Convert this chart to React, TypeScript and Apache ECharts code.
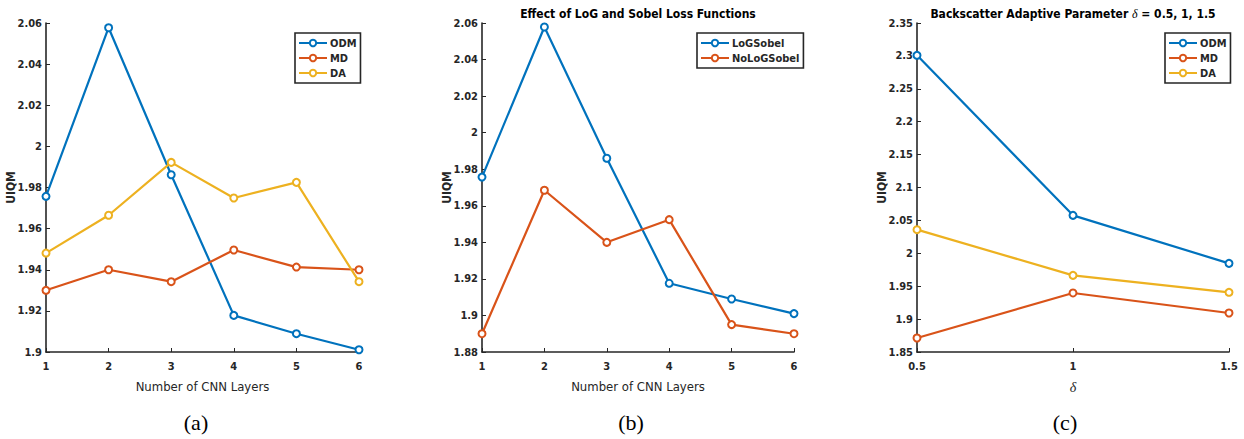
import React, { useEffect, useRef } from "react";
import * as echarts from "echarts";

const layers = [1, 2, 3, 4, 5, 6];
const aODM = [1.9757, 2.0577, 1.9862, 1.9178, 1.9089, 1.9011];
const aMD = [1.93, 1.94, 1.9342, 1.9496, 1.9413, 1.94];
const aDA = [1.9481, 1.9665, 1.9922, 1.9749, 1.9825, 1.9342];
const bLoGSobel = [1.9757, 2.0578, 1.986, 1.9176, 1.909, 1.901];
const bNoLoGSobel = [1.89, 1.9685, 1.94, 1.9524, 1.895, 1.89];
const deltas = [0.5, 1, 1.5];
const cODM = [2.3009, 2.0577, 1.9847];
const cMD = [1.8713, 1.9397, 1.9093];
const cDA = [2.0359, 1.9665, 1.9407];

const BLUE = "#0072BD";
const ORANGE = "#D95319";
const YELLOW = "#EDB120";
const AXIS = "#262626";
const FONT = "'Liberation Sans Narrow', 'DejaVu Sans Condensed', 'Liberation Sans', sans-serif";

const pairs = (xs: number[], ys: number[]) => xs.map((x, i) => [x, ys[i]]);
const fmt = (v: number) => String(parseFloat(v.toFixed(3)));

export default function App() {
  const ref = useRef<HTMLDivElement>(null);
  useEffect(() => {
    if (!ref.current) return;
    const chart = echarts.init(ref.current, undefined, { renderer: "svg" });
    const grids = [
      { left: 46, top: 23, width: 313, height: 329 },
      { left: 482, top: 23, width: 312, height: 329 },
      { left: 917, top: 23, width: 312, height: 329 },
    ];
    const axisCommon = {
      axisLine: { show: true, onZero: false, lineStyle: { color: AXIS, width: 1.6 } },
      axisTick: { show: true, inside: true, length: 4, lineStyle: { color: AXIS, width: 1 } },
      splitLine: { show: false },
      axisLabel: { color: AXIS, fontFamily: FONT, fontWeight: "bold", fontSize: 11, formatter: fmt },
    };
    const xName = { nameLocation: "middle", nameGap: 28, nameMoveOverlap: false, nameTextStyle: { color: AXIS, fontFamily: FONT, fontSize: 13 } };
    const xAxes = [
      { ...axisCommon, ...xName, gridIndex: 0, type: "value", min: 1, max: 6, interval: 1,
        name: "Number of CNN Layers", axisLabel: { ...axisCommon.axisLabel, margin: 9 } },
      { ...axisCommon, ...xName, gridIndex: 1, type: "value", min: 1, max: 6, interval: 1,
        name: "Number of CNN Layers", axisLabel: { ...axisCommon.axisLabel, margin: 9 } },
      { ...axisCommon, gridIndex: 2, type: "value", min: 0.5, max: 1.5, interval: 0.5,
        name: "δ", nameLocation: "middle", nameGap: 28, nameMoveOverlap: false,
        nameTextStyle: { color: AXIS, fontFamily: "'Liberation Serif', serif", fontStyle: "italic", fontSize: 14 },
        axisLabel: { ...axisCommon.axisLabel, margin: 9 } },
    ];
    const yName = {
      name: "UIQM", nameLocation: "middle", nameRotate: 90, nameGap: 29, nameMoveOverlap: false,
      nameTextStyle: { color: AXIS, fontFamily: FONT, fontWeight: "bold", fontSize: 12 },
    };
    const yAxes = [
      { ...axisCommon, ...yName, gridIndex: 0, type: "value", min: 1.9, max: 2.06, interval: 0.02,
        axisLabel: { ...axisCommon.axisLabel, margin: 4 } },
      { ...axisCommon, ...yName, gridIndex: 1, type: "value", min: 1.88, max: 2.06, interval: 0.02,
        axisLabel: { ...axisCommon.axisLabel, margin: 4 } },
      { ...axisCommon, ...yName, gridIndex: 2, type: "value", min: 1.85, max: 2.35, interval: 0.05,
        axisLabel: { ...axisCommon.axisLabel, margin: 4 } },
    ];
    const mk = (name: string, color: string, xs: number[], ys: number[], idx: number) => ({
      name, type: "line", xAxisIndex: idx, yAxisIndex: idx,
      data: pairs(xs, ys),
      symbol: "emptyCircle", symbolSize: 7,
      lineStyle: { color, width: 2.2 },
      itemStyle: { color, borderColor: color, borderWidth: 1.8 },
      emphasis: { disabled: true },
    });
    const series = [
      mk("ODM", BLUE, layers, aODM, 0),
      mk("MD", ORANGE, layers, aMD, 0),
      mk("DA", YELLOW, layers, aDA, 0),
      mk("LoGSobel", BLUE, layers, bLoGSobel, 1),
      mk("NoLoGSobel", ORANGE, layers, bNoLoGSobel, 1),
      mk("ODM", BLUE, deltas, cODM, 2),
      mk("MD", ORANGE, deltas, cMD, 2),
      mk("DA", YELLOW, deltas, cDA, 2),
    ];
    const legendCommon = {
      orient: "vertical",
      borderColor: AXIS,
      borderWidth: 1.6,
      padding: [4, 4, 4, 3],
      itemGap: 3,
      itemWidth: 28,
      itemHeight: 8,
      selectedMode: false,
      textStyle: { color: AXIS, fontFamily: FONT, fontWeight: "bold", fontSize: 11, lineHeight: 12, padding: [0, 0, 0, -2] },
    };
    const legends = [
      { ...legendCommon, left: 295, top: 33, data: ["ODM", "MD", "DA"] },
      { ...legendCommon, left: 697, top: 33, data: ["LoGSobel", "NoLoGSobel"] },
      { ...legendCommon, left: 1165, top: 33, data: ["ODM", "MD", "DA"] },
    ];
    const capStyle = { fill: "#000", fontFamily: "'Liberation Serif', 'Times New Roman', serif", fontSize: 22, textAlign: "center", textVerticalAlign: "middle" };
    const graphic = [
      { type: "text", x: 638, y: 14, style: { text: "Effect of LoG and Sobel Loss Functions", fill: "#000", fontFamily: FONT, fontWeight: "bold", fontSize: 12, textAlign: "center", textVerticalAlign: "middle" } },
      { type: "text", x: 1073, y: 14, style: {
        text: "Backscatter Adaptive Parameter {i|δ} = 0.5, 1, 1.5", fill: "#000", fontFamily: FONT, fontWeight: "bold", fontSize: 12, textAlign: "center", textVerticalAlign: "middle",
        rich: { i: { fontFamily: "'Liberation Serif', serif", fontStyle: "italic", fontWeight: "normal", fontSize: 12, fill: "#000" } } } },
      { type: "text", x: 196, y: 422, style: { ...capStyle, text: "(a)" } },
      { type: "text", x: 631, y: 422, style: { ...capStyle, text: "(b)" } },
      { type: "text", x: 1065, y: 422, style: { ...capStyle, text: "(c)" } },
    ];
    chart.setOption({
      animation: false,
      backgroundColor: "#fff",
      grid: grids,
      xAxis: xAxes,
      yAxis: yAxes,
      legend: legends,
      series,
      graphic,
    } as any);
    return () => chart.dispose();
  }, []);
  return <div ref={ref} style={{ position: "fixed", left: 0, top: 0, width: 1244, height: 439 }} />;
}
